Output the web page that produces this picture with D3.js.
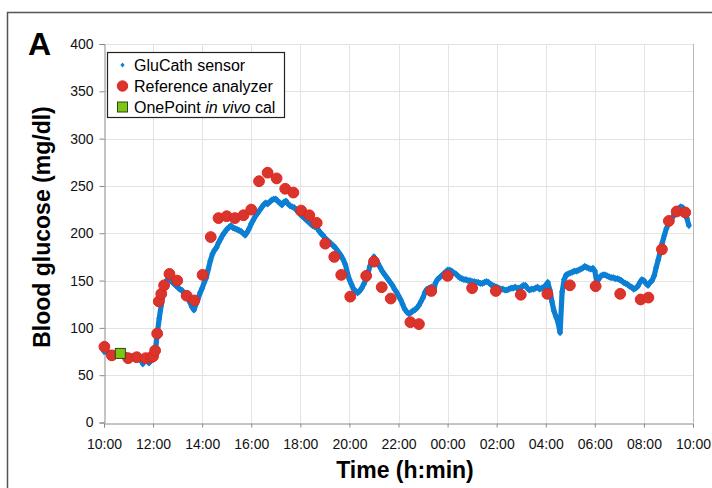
<!DOCTYPE html>
<html><head><meta charset="utf-8">
<script src="https://cdn.jsdelivr.net/npm/d3@7"></script>
<style>html,body{margin:0;padding:0;background:#fff;} svg{display:block;font-family:"Liberation Sans",Arial,Helvetica,sans-serif;}</style>
</head><body><svg id="c" width="712" height="488"></svg>
<script>
// ---- data ----
const tickLabels = ["10:00","12:00","14:00","16:00","18:00","20:00","22:00","00:00","02:00","04:00","06:00","08:00","10:00"];
const yTicks = [0,50,100,150,200,250,300,350,400];

// GluCath sensor, one reading every 5 min starting 10:00 (one row per hour)
const sensorStart = "10:00";
const sensorStepMin = 5;
const sensorValues = [
  75,75,74,73,72,73,73,74,74,73,72,71,
  70,70,70,69,69,68,66,62,67,68,63,66,
  69,73,93,110,124,138,148,151,152,149,147,145,
  143,141,140,137,134,131,127,122,119,125,131,137,
  142,148,153,162,171,178,182,185,190,194,198,201,
  204,206,208,206,205,204,203,202,200,198,201,205,
  210,214,218,221,224,227,230,232,231,233,235,236,
  236,234,232,230,233,234,231,229,228,227,225,222,
  220,218,216,214,212,210,208,207,206,203,200,198,
  195,193,191,189,187,185,182,179,176,172,167,158,
  151,146,141,139,137,139,142,146,151,157,165,171,
  175,172,168,164,160,157,154,151,148,145,141,138,
  134,130,125,120,117,115,116,118,119,121,124,128,
  132,138,141,142,143,137,147,151,153,155,157,159,
  161,161,160,158,157,155,153,152,151,151,150,150,
  149,149,148,148,147,147,148,149,148,146,145,144,
  143,142,141,141,140,140,141,142,142,143,142,142,
  143,145,145,142,140,141,141,142,143,141,142,143,
  145,148,140,128,118,112,106,95,138,151,156,157,
  158,159,160,160,161,162,163,165,164,163,162,163,
  160,148,152,155,156,156,155,154,153,153,152,152,
  151,150,148,147,146,144,143,141,142,144,148,151,
  150,147,145,148,150,155,164,172,181,190,198,205,
  210,214,217,220,223,226,228,227,223,216,208
];

// Reference analyzer
const refTimes = ["10:01","10:19","10:59","11:20","11:42","11:56","12:00","12:05","12:10","12:14","12:20","12:27","12:40","12:59","13:22","13:41",
  "14:01","14:21","14:40","15:00","15:20","15:41","16:00","16:19","16:40","17:02","17:23","17:43","18:02","18:22","18:40","19:01","19:23","19:40",
  "20:02","20:41","21:00","21:19","21:41","22:29","22:50","23:20","00:00","01:00","01:58","02:59","04:04","04:59","06:02","07:02","07:52","08:11",
  "08:44","09:01","09:20","09:41"];
const refValues = [80,71,68,69,68,69,70,76,94,128,136,145,157,150,134,129,
  156,196,216,218,216,219,225,255,264,258,247,243,224,219,211,189,175,156,
  133,155,170,143,131,106,104,139,155,142,139,135,136,145,144,136,130,132,
  183,213,223,222];

// OnePoint in vivo calibration
const calTimes = ["10:40"];
const calValues = [73];

// ---- drawing ----
const elapsed0 = (()=>{const p=sensorStart.split(":").map(Number); return p[0]*60+p[1];})();
function elapsed(s){ const p=s.split(":").map(Number); let v=p[0]*60+p[1]-elapsed0; if(v<0) v+=1440; return v; }

const svg = d3.select("#c");
const x = d3.scaleLinear().domain([0,1440]).range([104,693]);
const y = d3.scaleLinear().domain([0,400]).range([422.5,44]);
const xTickVals = tickLabels.map((d,i)=>i*120);

// outer frame
svg.append("rect").attr("x",7.5).attr("y",12.5).attr("width",720).attr("height",500)
  .attr("fill","none").attr("stroke","#555").attr("stroke-width",1.5);

// panel letter
svg.append("text").attr("x",28).attr("y",55).attr("font-size",32).attr("font-weight","bold").text("A");

// gridlines
const g = svg.append("g");
g.selectAll("line.h").data(yTicks.filter(d=>d>0)).join("line")
  .attr("x1",x(0)).attr("x2",x(1440)).attr("y1",d=>Math.round(y(d))+0.5).attr("y2",d=>Math.round(y(d))+0.5)
  .attr("stroke","#e3e3e3").attr("stroke-width",1);
g.selectAll("line.v").data(xTickVals.slice(1)).join("line")
  .attr("x1",d=>Math.round(x(d))+0.5).attr("x2",d=>Math.round(x(d))+0.5).attr("y1",y(0)).attr("y2",y(400))
  .attr("stroke",(d,i,a)=> i===a.length-1 ? "#b8b8b8" : "#e3e3e3").attr("stroke-width",1);

// axes
const ax = svg.append("g").attr("transform",`translate(${Math.round(x(0))+0.5},0)`)
  .call(d3.axisLeft(y).tickValues(yTicks).tickSize(5).tickPadding(6));
ax.select(".domain").attr("stroke","#8a8a8a");
ax.selectAll(".tick line").attr("stroke","#8a8a8a");
ax.selectAll("text").attr("font-size",14).attr("fill","#111").attr("font-family",null);

const bx = svg.append("g").attr("transform",`translate(0,${Math.round(y(0))+0.5})`)
  .call(d3.axisBottom(x).tickValues(xTickVals).tickFormat((d,i)=>tickLabels[i]).tickSize(4).tickPadding(12));
bx.select(".domain").attr("stroke","#8a8a8a");
bx.selectAll(".tick line").attr("stroke","#8a8a8a");
bx.selectAll("text").attr("font-size",14).attr("fill","#111").attr("font-family",null);

// axis titles
svg.append("text").attr("transform","translate(50,227) rotate(-90)").attr("text-anchor","middle")
  .attr("font-size",23).attr("font-weight","bold").text("Blood glucose (mg/dl)");
svg.append("text").attr("x",405).attr("y",478).attr("text-anchor","middle")
  .attr("font-size",23).attr("font-weight","bold").text("Time (h:min)");

// sensor
const blue = "#0b7fd3";
const sensor = sensorValues.map((v,i)=>({t:i*sensorStepMin, v}));
svg.append("path").datum(sensor)
  .attr("d", d3.line().x(d=>x(d.t)).y(d=>y(d.v)))
  .attr("fill","none").attr("stroke",blue).attr("stroke-width",5.2).attr("stroke-linejoin","round");
const diamond = "M0,-3.6L3,0L0,3.6L-3,0Z";
svg.append("g").selectAll("path").data(sensor).join("path")
  .attr("transform",d=>`translate(${x(d.t)},${y(d.v)})`).attr("d",diamond).attr("fill",blue);

// reference analyzer
const refs = refTimes.map((t,i)=>({t:elapsed(t), v:refValues[i]}));
svg.append("g").selectAll("circle").data(refs).join("circle")
  .attr("cx",d=>x(d.t)).attr("cy",d=>y(d.v)).attr("r",5.4)
  .attr("fill","#d8352c").attr("stroke","#e8231d").attr("stroke-width",1);

// calibration
const cals = calTimes.map((t,i)=>({t:elapsed(t), v:calValues[i]}));
svg.append("g").selectAll("rect").data(cals).join("rect")
  .attr("x",d=>x(d.t)-5).attr("y",d=>y(d.v)-5).attr("width",10).attr("height",10)
  .attr("fill","#7cc517").attr("stroke","#2f4a10").attr("stroke-width",1);

// legend
const lg = svg.append("g");
lg.append("rect").attr("x",107.5).attr("y",52.5).attr("width",177).attr("height",65)
  .attr("fill","#fff").attr("stroke","#222").attr("stroke-width",1.2);
const rows = [65,86,107];
lg.append("path").attr("transform",`translate(122.5,${rows[0]}) scale(0.7)`).attr("d",diamond).attr("fill",blue);
lg.append("circle").attr("cx",122.5).attr("cy",rows[1]).attr("r",5.2).attr("fill","#d8352c").attr("stroke","#e8231d");
lg.append("rect").attr("x",117.5).attr("y",rows[2]-5).attr("width",10).attr("height",10).attr("fill","#7cc517").attr("stroke","#2f4a10");
lg.append("text").attr("x",134).attr("y",rows[0]+5.5).attr("font-size",16).text("GluCath sensor");
lg.append("text").attr("x",134).attr("y",rows[1]+5.5).attr("font-size",16).text("Reference analyzer");
const t3 = lg.append("text").attr("x",134).attr("y",rows[2]+5.5).attr("font-size",16);
t3.append("tspan").text("OnePoint ");
t3.append("tspan").attr("font-style","italic").text("in vivo");
t3.append("tspan").text(" cal");
</script></body></html>
